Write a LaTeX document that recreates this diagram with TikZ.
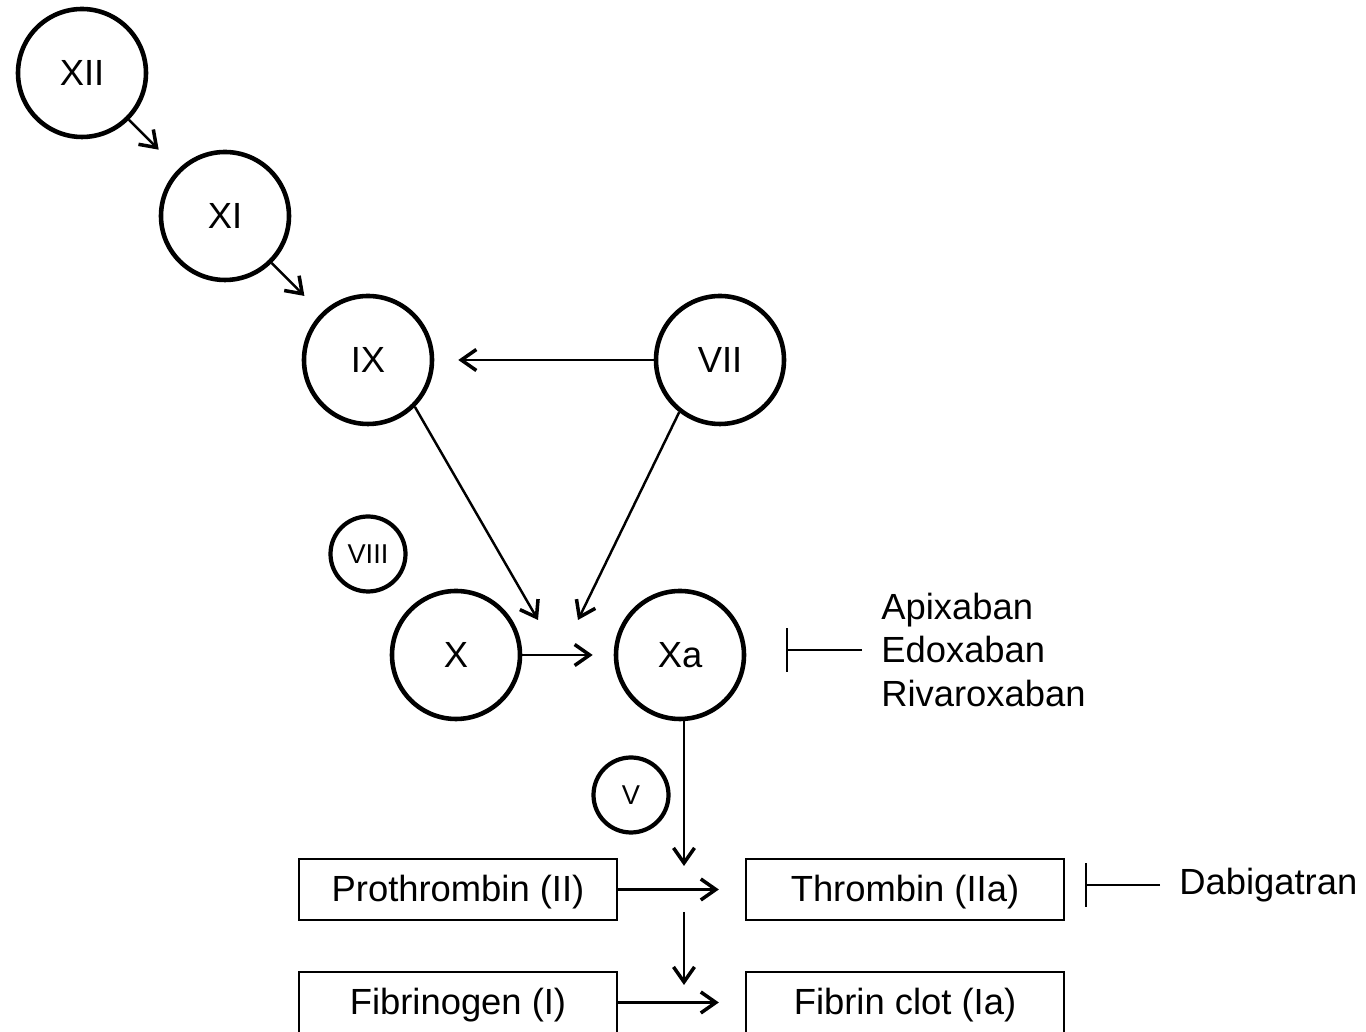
\documentclass[tikz,border=0pt]{standalone}
\usepackage{fontspec}
\setmainfont{Liberation Sans}
\usepackage{tikz}
\usetikzlibrary{positioning, calc, arrows.meta}

\begin{document}
\begin{tikzpicture}[
    factor/.style={circle, draw, line width=2.6pt, minimum size=2.56cm,
                   inner sep=0pt, font=\fontsize{20.7}{25}\selectfont},
    cofactor/.style={circle, draw, line width=2.4pt, minimum size=1.5cm,
                     inner sep=0pt, font=\fontsize{15.5}{18}\selectfont},
    protbox/.style={rectangle, draw, line width=1.3pt, minimum width=6.36cm,
                    minimum height=1.22cm, inner sep=0pt, text height=0.5cm,
                    text depth=0pt, font=\fontsize{20.7}{25}\selectfont},
    drug/.style={anchor=west, inner xsep=0.38cm, inner ysep=0pt, align=left,
                 font=\fontsize{20.7}{25}\selectfont},
    arr/.style={line width=1.4pt,
                -{Straight Barb[length=0.3cm, width=0.42cm, line width=2pt]}},
    inh/.style={line width=1.3pt, -{Bar[width=0.88cm, line width=1.3pt]}},
  ]
    \useasboundingbox (0,0) rectangle (27.32,20.64);

    \node[factor] (XII) at (1.64,19.18) {XII};
    \node[factor] (XI) at (4.50,16.32) {XI};
    \node[factor] (IX) at (7.36,13.44) {IX};
    \node[factor] (VII) at (14.40,13.44) {VII};
    \node[cofactor] (VIII) at (7.36,9.56) {VIII};
    \node[factor] (X) at (9.12,7.54) {X};
    \node[factor] (Xa) at (13.60,7.54) {Xa};
    \node[cofactor] (V) at (12.62,4.74) {V};

    \node[protbox] (Pro) at (9.16,2.85) {Prothrombin (II)};
    \node[protbox] (Thr) at (18.10,2.85) {Thrombin (IIa)};
    \node[protbox] (Fbg) at (9.16,0.59) {Fibrinogen (I)};
    \node[protbox] (Fbn) at (18.10,0.59) {Fibrin clot (Ia)};

    \node[drug] (antiXa) at (17.24,7.64) {Apixaban\\Edoxaban\\Rivaroxaban};
    \node[drug] (dabi) at (23.20,2.94) {Dabigatran};

    \coordinate (tenase1) at (10.76,8.24);
    \coordinate (tenase2) at (11.56,8.24);
    \coordinate (xaend) at (13.68,3.32);
    \coordinate (thrstart) at (13.68,2.40);
    \coordinate (thrend) at (13.68,0.94);
    \coordinate (xabar) at (15.72,7.64);
    \coordinate (iiabar) at (21.70,2.94);

    \draw[arr, shorten >=0.55cm] (XII) -- (XI);
    \draw[arr, shorten >=0.48cm] (XI) -- (IX);
    \draw[arr, shorten >=0.48cm] (VII) -- (IX);
    \draw[arr] (IX.-45) -- (tenase1);
    \draw[arr] (VII.-128) -- (tenase2);
    \draw[arr, shorten >=0.42cm] (X) -- (Xa);
    \draw[arr] (Xa.south -| xaend) -- (xaend);
    \draw[arr, shorten >=0.52cm] (Pro) -- (Thr);
    \draw[arr] (thrstart) -- (thrend);
    \draw[arr, shorten >=0.52cm] (Fbg) -- (Fbn);

    \draw[inh] (antiXa.west) -- (xabar);
    \draw[inh] (dabi.west) -- (iiabar);
  \end{tikzpicture}
\end{document}
